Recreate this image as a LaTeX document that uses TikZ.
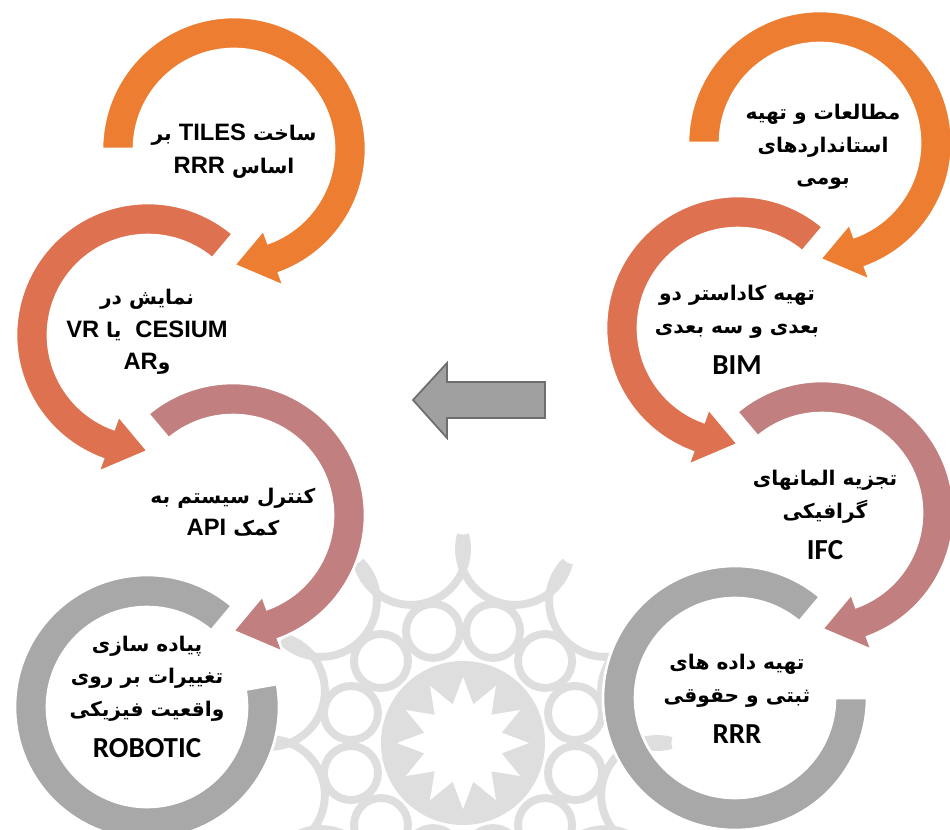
\documentclass[tikz,border=0pt]{standalone}
\usepackage{fontspec}
\usepackage{tikz}
\usetikzlibrary{calc}
\TeXXeTstate=1
\newfontfamily\farsi[Script=Arabic]{DejaVu Sans}
\newfontfamily\arial{Liberation Sans}
\newfontfamily\calib{Carlito}
\newcommand{\fa}[1]{{\farsi\bfseries\beginR #1\endR}}
\newcommand{\lt}[1]{\beginL{\arial\bfseries\fontsize{13.5}{18.5}\selectfont #1}\endL{}}
\newcommand{\latn}[1]{{\calib\bfseries\fontsize{16.5}{18.5}\selectfont #1}}
\definecolor{ringA}{RGB}{237,125,49}
\definecolor{ringB}{RGB}{221,113,80}
\definecolor{ringC}{RGB}{193,128,127}
\definecolor{ringD}{RGB}{168,168,168}
\definecolor{wmgray}{RGB}{222,222,222}
% ring with arrow head: centre, start, base of head, tip, style
\newcommand{\ringarrow}[5]{%
  \fill[#5] ($(#1)+(#2:132)$) arc[start angle=#2, end angle=#3, radius=132]
    -- ($(#1)+(#3:146)$) -- ($(#1)+(#4:116)$) -- ($(#1)+(#3:86)$)
    -- ($(#1)+(#3:100)$) arc[start angle=#3, end angle=#2, radius=100] -- cycle;}
% ring with flat end: centre, start, end, style
\newcommand{\ringend}[4]{%
  \fill[#4] ($(#1)+(#2:132)$) arc[start angle=#2, end angle=#3, radius=132]
    -- ($(#1)+(#3:100)$) arc[start angle=#3, end angle=#2, radius=100] -- cycle;}

\begin{document}
\begin{tikzpicture}[x=0.02cm, y=0.02cm]
	\tikzstyle{StepA}	= [fill=ringA, draw=white, line width=1.5pt]
	\tikzstyle{StepB}	= [fill=ringB, draw=white, line width=1.5pt]
	\tikzstyle{StepC}	= [fill=ringC, draw=white, line width=1.5pt]
	\tikzstyle{StepD}	= [fill=ringD, draw=white, line width=1.5pt]
	\tikzstyle{Label}	= [align=center, inner sep=0pt, font=\fontsize{11.5}{18.5}\selectfont]
	\tikzstyle{Mark}	= [draw=wmgray, line width=4.5pt]
	\tikzstyle{Shift}	= [fill={rgb,255:red,160;green,160;blue,160}, draw={rgb,255:red,110;green,110;blue,110}, line width=1pt]

	\useasboundingbox (0,0) rectangle (950,-829);

	% watermark
	\begin{scope}
		\clip (0,0) rectangle (950,-829);
		\coordinate (w) at (463,-743);
		\fill[wmgray] (w) circle (82);
		\fill[white, shift={(w)}] (0:66) \foreach \a in {0,30,...,330} { -- (\a:66) -- (\a+15:40) } -- cycle;
		\foreach \a in {0,30,...,330} {
			\draw[Mark] ($(w)+(\a+15:116)$) circle (27);
			\draw[Mark] ($(w)+(\a+15:201)+(\a+105:56)$) arc[start angle=\a+105, end angle=\a+285, radius=56];
		}
	\end{scope}

	\coordinate (a1) at (234,-149);
	\coordinate (a2) at (148,-335);
	\coordinate (a3) at (233,-515);
	\coordinate (a4) at (147,-707);
	\coordinate (b1) at (820,-143);
	\coordinate (b2) at (738,-328);
	\coordinate (b3) at (822,-513);
	\coordinate (b4) at (735,-698);

	% right column
	\ringend{b4}{50}{360}{StepD}
	\ringarrow{b3}{130}{-70}{-90}{StepC}
	\ringarrow{b2}{50}{250}{270}{StepB}
	\ringarrow{b1}{180}{-70}{-90}{StepA}

	% left column
	\ringend{a4}{50}{370}{StepD}
	\ringarrow{a3}{130}{-70}{-90}{StepC}
	\ringarrow{a2}{50}{250}{270}{StepB}
	\ringarrow{a1}{180}{-70}{-90}{StepA}

	% arrow between the columns
	\draw[Shift] (413,-400) -- (447,-363) -- (447,-382) -- (545,-382) -- (545,-418) -- (447,-418) -- (447,-438) -- cycle;

	\node (t1) at (234,-151) [Label] {\fa{ساخت \lt{TILES} بر}\\ \fa{اساس \lt{RRR}}};
	\node (t2) at (147,-332) [Label] {\fa{نمایش در}\\ \fa{\lt{CESIUM}\ \ یا \lt{VR}}\\ \fa{و\lt{AR}}};
	\node (t3) at (233,-512) [Label] {\fa{کنترل سیستم به}\\ \fa{کمک \lt{API}}};
	\node (t4) at (147,-697) [Label] {\fa{پیاده سازی}\\ \fa{تغییرات بر روی}\\ \fa{واقعیت فیزیکی}\\[5pt] \latn{ROBOTIC}};
	\node (u1) at (823,-147) [Label] {\fa{مطالعات و تهیه}\\ \fa{استانداردهای}\\ \fa{بومی}};
	\node (u2) at (737,-330) [Label] {\fa{تهیه کاداستر دو}\\ \fa{بعدی و سه بعدی}\\[5pt] \latn{BIM}};
	\node (u3) at (825,-515) [Label] {\fa{تجزیه المانهای}\\ \fa{گرافیکی}\\[5pt] \latn{IFC}};
	\node (u4) at (737,-699) [Label] {\fa{تهیه داده های}\\ \fa{ثبتی و حقوقی}\\[5pt] \latn{RRR}};
\end{tikzpicture}
\end{document}
